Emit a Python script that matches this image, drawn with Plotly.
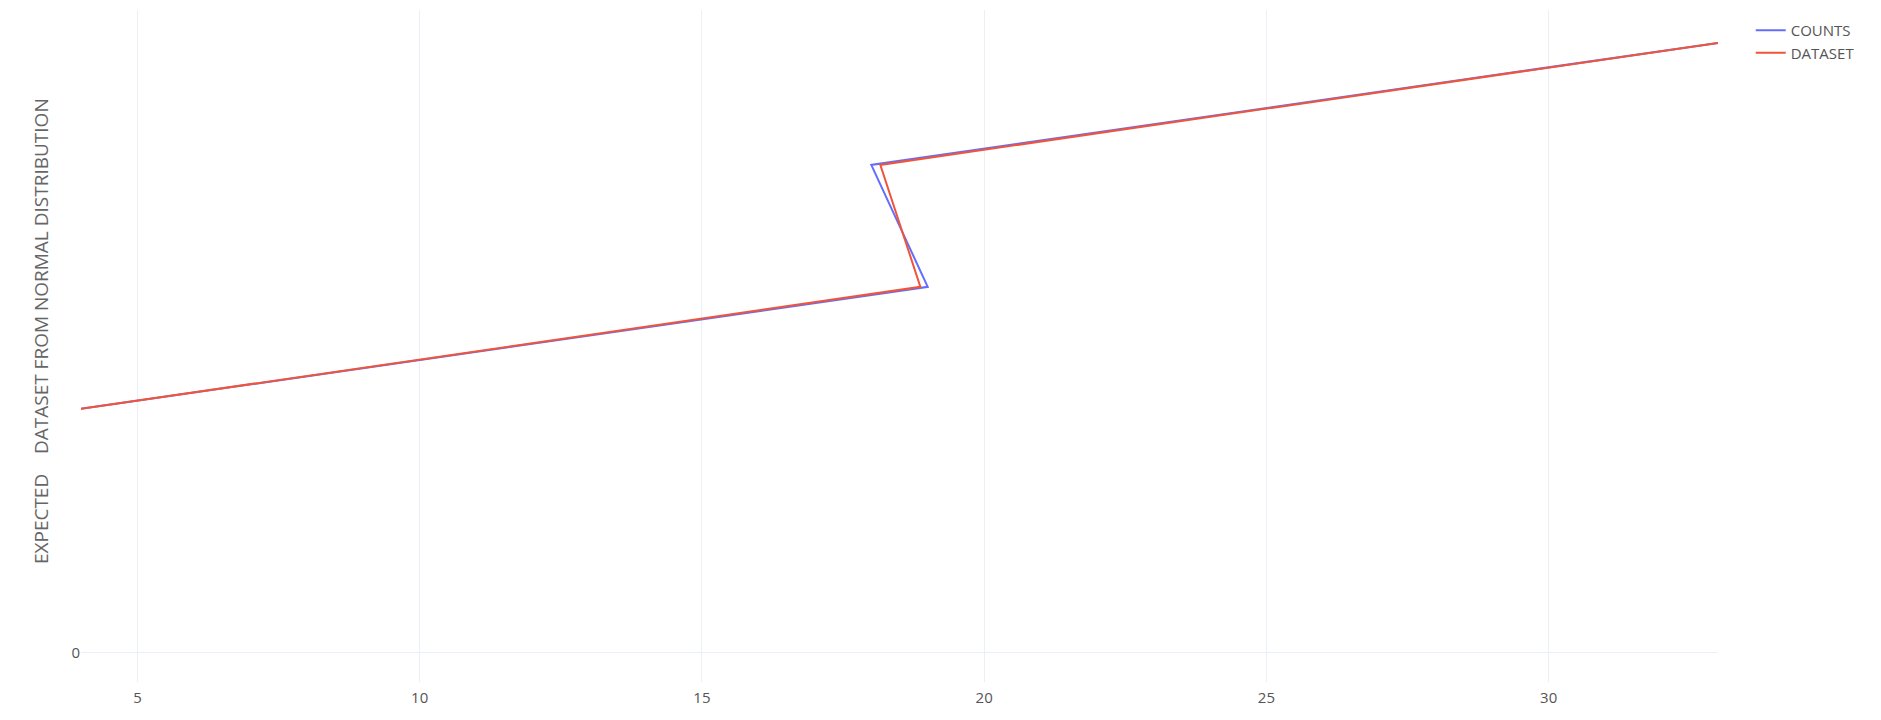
import plotly.graph_objects as go

counts_x = [4, 19, 18, 33]
counts_y = [20, 30, 40, 50]
dataset_x = [4, 18.87, 18.16, 33]
dataset_y = [20, 30, 40, 50]

nb = "\u00a0"
y_title = "\u200b" + nb * 6 + "EXPECTED " + nb * 2 + " DATASET FROM NORMAL DISTRIBUTION"

fig = go.Figure()
fig.add_trace(go.Scatter(x=counts_x, y=counts_y, mode="lines", name="COUNTS",
                         line=dict(color="#636EFA", width=2)))
fig.add_trace(go.Scatter(x=dataset_x, y=dataset_y, mode="lines", name="DATASET",
                         line=dict(color="#EF553B", width=2)))

fig.update_layout(
    template="plotly_white",
    width=1873, height=712,
    margin=dict(l=73, r=163, t=2, b=38, autoexpand=False),
    font=dict(family="Open Sans", size=15, color="#555555"),
    legend=dict(font=dict(color="#555555", size=15), y=0.994),
    xaxis=dict(range=[4, 33], tickvals=[5, 10, 15, 20, 25, 30], showline=False,
               zeroline=False, gridcolor="#EBF0F8", automargin=False,
               ticklabelstandoff=5),
    yaxis=dict(range=[-2.4, 52.7], tickvals=[0], zeroline=False, gridcolor="#EBF0F8",
               automargin=False,
               title=dict(text=y_title, font=dict(color="#666666", size=19), standoff=17)),
)

fig.write_html("out.html")
